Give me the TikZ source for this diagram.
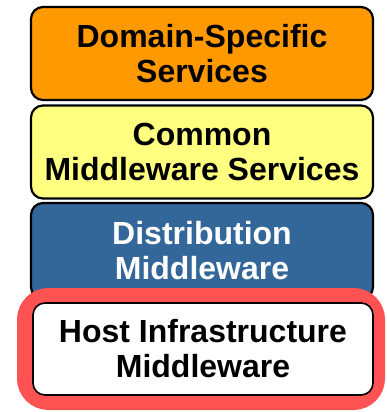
\documentclass[tikz,border=0pt]{standalone}
\usepackage{fontspec}
\setmainfont{Liberation Sans}
\definecolor{dsorange}{HTML}{FF9900}
\definecolor{cmyellow}{HTML}{FFFF80}
\definecolor{dmblue}{HTML}{336699}
\definecolor{hilite}{HTML}{FF5252}
\begin{document}
\begin{tikzpicture}[x=1pt,y=-1pt,
  layer/.style={draw=black, line width=2.2pt, rounded corners=12pt,
    minimum width=342pt, minimum height=93pt, align=center,
    inner sep=0pt, font=\fontsize{32}{35}\selectfont\bfseries},
  frame/.style={draw=hilite, line width=15pt, rounded corners=24pt,
    minimum width=353pt, minimum height=107pt, inner sep=0pt}]
  \useasboundingbox (0,0) rectangle (386,412);
  \node[layer, fill=dsorange] (dss) at (202,53.5) {Domain-Specific\\Services};
  \node[layer, fill=cmyellow] (cms) at (202,152) {Common\\Middleware Services};
  \node[layer, fill=dmblue, text=white, minimum height=96pt] (dm) at (202,251) {Distribution\\Middleware};
  \node[frame] (hl) at (201,349) {};
  \node[layer, fill=white, line width=1.6pt, minimum width=340pt, minimum height=92pt] (him) at (203,349) {Host Infrastructure\\Middleware};
\end{tikzpicture}
\end{document}
